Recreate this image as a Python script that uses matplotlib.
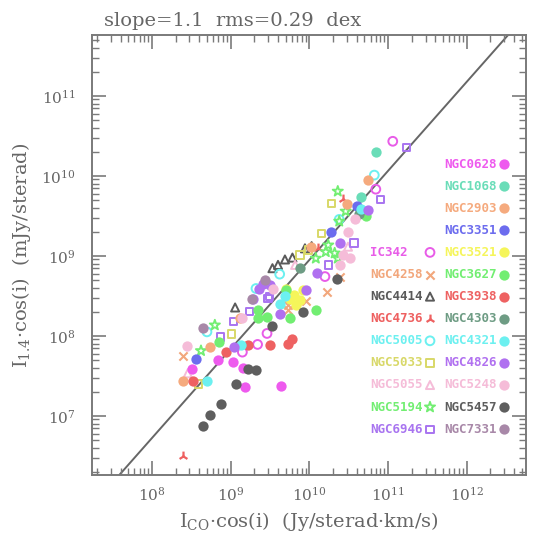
import numpy as np
import matplotlib
matplotlib.use("Agg")
import matplotlib.pyplot as plt
from matplotlib.ticker import LogLocator, NullFormatter, LogFormatterMathtext

plt.rcParams['font.family'] = ['DejaVu Serif']
plt.rcParams['mathtext.fontset'] = 'dejavuserif'

# ---------------- data (I_CO cos i [Jy/sr km/s], I_1.4 cos i [mJy/sr]) ----------------
ic342_x = [1.15e11, 7.0e10, 1.58e10, 2.9e9, 2.2e9, 1.41e9]
ic342_y = [2.7e10, 6.8e9, 5.5e8, 1.07e8, 7.8e7, 6.25e7]
ngc4258_x = [2.5e8, 2.45e10, 1.66e10, 9.2e9, 5.4e9, 5.4e9]
ngc4258_y = [5.6e7, 5.5e8, 3.5e8, 2.7e8, 2.4e8, 2.1e8]
ngc4414_x = [3.4e9, 4.0e9, 4.9e9, 6.1e9, 1.14e9, 8.8e9, 1.07e10]
ngc4414_y = [7.0e8, 7.7e8, 9.0e8, 9.5e8, 2.26e8, 1.24e9, 1.32e9]
ngc4736_x = [2.65e10, 2.5e8, 1.3e10]
ngc4736_y = [5.2e9, 3.1e6, 1.24e9]
ngc5005_x = [6.7e10, 2.4e10, 4.2e9, 5.0e8, 2.1e9]
ngc5005_y = [1.02e10, 2.85e9, 5.9e8, 1.12e8, 3.9e8]
ngc5033_x = [1.92e10, 1.44e10, 7.6e9, 1.03e9, 3.9e8, 9.7e9]
ngc5033_y = [4.5e9, 1.9e9, 1.02e9, 1.05e8, 2.5e7, 1.18e9]
ngc5055_x = [3.1e10, 2.85e8, 6.6e9]
ngc5055_y = [1.3e9, 3.4e7, 7.7e8]
ngc5194_x = [2.3e10, 2.9e10, 2.4e10, 1.62e10, 1.21e10, 2.1e10, 6.3e8, 4.2e8, 1.74e10, 2.3e10]
ngc5194_y = [6.4e9, 3.6e9, 2.7e9, 1.12e9, 9.3e8, 1.08e9, 1.36e8, 6.5e7, 1.36e9, 9.3e8]
ngc6946_x = [1.73e11, 8.1e10, 3.7e10, 1.74e10, 3.1e9, 1.73e9, 1.08e9, 7.5e8, 3.0e9]
ngc6946_y = [2.26e10, 5.1e9, 1.45e9, 7.7e8, 3.1e8, 2.0e8, 1.5e8, 9.7e7, 2.9e8]

ngc0628_x = [7.0e8, 1.08e9, 3.2e8, 1.45e9, 1.52e9, 4.4e9]
ngc0628_y = [5.0e7, 4.7e7, 3.9e7, 4.0e7, 2.26e7, 2.35e7]
ngc1068_x = [7.0e10, 4.6e10]
ngc1068_y = [1.96e10, 5.4e9]
ngc2903_x = [5.6e10, 3.0e10, 1.05e10, 5.5e8, 2.5e8, 1.31e9]
ngc2903_y = [8.8e9, 4.5e9, 1.3e9, 7.3e7, 2.7e7, 1.66e8]
ngc3351_x = [4.0e10, 1.9e10, 3.6e8]
ngc3351_y = [4.2e9, 2.0e9, 5.2e7]
ngc3521_x = [6.3e9, 7.6e9, 5.7e9, 5.0e9, 8.3e9, 6.8e9]
ngc3521_y = [3.2e8, 2.8e8, 2.9e8, 3.9e8, 3.7e8, 2.4e8]
ngc3627_x = [1.21e10, 2.2e9, 2.2e9, 2.9e9, 5.7e9, 7.2e8, 5.2e10, 5.1e9]
ngc3627_y = [2.1e8, 2.1e8, 1.65e8, 1.73e8, 1.65e8, 8.4e7, 3.1e9, 3.7e8]
ngc3938_x = [8.7e8, 1.68e9, 3.2e9, 5.4e9, 6.0e9, 3.3e8]
ngc3938_y = [6.3e7, 7.7e7, 7.7e7, 8.0e7, 9.0e7, 2.7e7]
ngc4303_x = [4.3e10, 7.6e9]
ngc4303_y = [3.3e9, 7.0e8]
ngc4321_x = [4.6e10, 1.34e9, 5.0e8, 4.2e9, 4.9e9]
ngc4321_y = [3.9e9, 7.7e7, 2.7e7, 2.5e8, 3.1e8]
ngc4826_x = [5.6e10, 2.45e10, 1.24e10, 9.2e9, 4.2e9, 1.1e9, 2.6e9, 3.2e9, 1.94e9, 2.3e9]
ngc4826_y = [3.7e9, 1.43e9, 6.1e8, 3.7e8, 1.87e8, 7.2e7, 4.5e8, 4.3e8, 2.9e8, 3.8e8]
ngc5248_x = [3.8e10, 3.1e10, 1.38e9, 2.8e8, 3.3e10, 2.45e10, 2.7e10, 3.5e9]
ngc5248_y = [2.85e9, 2.0e9, 1.65e8, 7.4e7, 9.4e8, 7.7e8, 1.02e9, 3.8e8]
ngc5457_x = [2.22e10, 8.4e9, 3.4e9, 1.68e9, 2.1e9, 1.17e9, 7.5e8, 5.5e8, 4.5e8]
ngc5457_y = [5.2e8, 2.0e8, 1.32e8, 3.9e7, 3.7e7, 2.5e7, 1.4e7, 1.02e7, 7.5e6]
ngc7331_x = [4.5e8, 1.85e9, 2.7e9]
ngc7331_y = [1.24e8, 2.9e8, 5.0e8]

fit_slope = 1.113
fit_log_norm = -2.182
x_ticks = [1e8, 1e9, 1e10, 1e11, 1e12]
y_ticks = [1e7, 1e8, 1e9, 1e10, 1e11]

# ---------------- styles ----------------
left_col = [
    ("IC342", ic342_x, ic342_y, 'o', '#e85ce8', False),
    ("NGC4258", ngc4258_x, ngc4258_y, 'x', '#f2a77c', False),
    ("NGC4414", ngc4414_x, ngc4414_y, '^', '#5a5a5a', False),
    ("NGC4736", ngc4736_x, ngc4736_y, '2', '#ee6060', False),
    ("NGC5005", ngc5005_x, ngc5005_y, 'o', '#6cf0f0', False),
    ("NGC5033", ngc5033_x, ngc5033_y, 's', '#d8d868', False),
    ("NGC5055", ngc5055_x, ngc5055_y, '^', '#f5bcd8', False),
    ("NGC5194", ngc5194_x, ngc5194_y, '*', '#72ee72', False),
    ("NGC6946", ngc6946_x, ngc6946_y, 's', '#a874f0', False),
]
right_col = [
    ("NGC0628", ngc0628_x, ngc0628_y, 'o', '#ee5aee', True),
    ("NGC1068", ngc1068_x, ngc1068_y, 'o', '#6addb8', True),
    ("NGC2903", ngc2903_x, ngc2903_y, 'o', '#f5aa7e', True),
    ("NGC3351", ngc3351_x, ngc3351_y, 'o', '#6c6cee', True),
    ("NGC3521", ngc3521_x, ngc3521_y, 'o', '#f5f55a', True),
    ("NGC3627", ngc3627_x, ngc3627_y, 'o', '#72ee72', True),
    ("NGC3938", ngc3938_x, ngc3938_y, 'o', '#ee6262', True),
    ("NGC4303", ngc4303_x, ngc4303_y, 'o', '#6e9c84', True),
    ("NGC4321", ngc4321_x, ngc4321_y, 'o', '#6cf0f0', True),
    ("NGC4826", ngc4826_x, ngc4826_y, 'o', '#b070f0', True),
    ("NGC5248", ngc5248_x, ngc5248_y, 'o', '#f5bcd8', True),
    ("NGC5457", ngc5457_x, ngc5457_y, 'o', '#5e5e5e', True),
    ("NGC7331", ngc7331_x, ngc7331_y, 'o', '#a888a8', True),
]

W, H = 542, 539
fig = plt.figure(figsize=(W / 100, H / 100), dpi=100)
L, R, T, B = 92, 526, 35, 475
ax = fig.add_axes([L / W, 1 - B / H, (R - L) / W, (B - T) / H])
ax.set_xscale('log')
ax.set_yscale('log')
xlim = (10 ** 7.238, 10 ** 12.754)
ylim = (10 ** 6.26, 10 ** 11.76)
ax.set_xlim(*xlim)
ax.set_ylim(*ylim)

GRAY = '#666666'


def mstyle(marker, color, filled):
    if marker == 'x':
        return dict(marker=marker, color=color, s=35, linewidths=1.5)
    if marker == '2':
        return dict(marker=marker, color=color, s=50, linewidths=1.6)
    if marker == '*':
        return dict(marker=marker, facecolors='none', edgecolors=color, s=60, linewidths=1.3)
    if filled:
        return dict(marker=marker, color=color, s=55, linewidths=0)
    size = {'s': 28, '^': 34, 'o': 40}[marker]
    return dict(marker=marker, facecolors='none', edgecolors=color, s=size, linewidths=1.4)


# fit line
lx = np.linspace(np.log10(xlim[0]), np.log10(xlim[1]), 50)
ax.plot(10 ** lx, 10 ** (fit_slope * lx + fit_log_norm), color=GRAY, lw=1.4, zorder=1)

for name, xs, ys, mk, col, filled in left_col + right_col:
    ax.scatter(xs, ys, zorder=2, **mstyle(mk, col, filled))

# legend (drawn as text inside the axes)
row0, dy = 164, 22.1
lab_font = dict(family='DejaVu Sans Mono', weight='bold', fontsize=9)
for i, (name, xs, ys, mk, col, filled) in enumerate(right_col):
    yy = (B - (row0 + dy * i)) / (B - T)
    ax.text((497 - L) / (R - L), yy, name, color=col, ha='right', va='center',
            transform=ax.transAxes, **lab_font)
    ax.scatter([(504 - L) / (R - L)], [yy], transform=ax.transAxes, clip_on=False,
               zorder=3, **mstyle(mk, col, filled))
for i, (name, xs, ys, mk, col, filled) in enumerate(left_col):
    yy = (B - (row0 + dy * (i + 4))) / (B - T)
    ax.text((370 - L) / (R - L), yy, name, color=col, ha='left', va='center',
            transform=ax.transAxes, **lab_font)
    ax.scatter([(430 - L) / (R - L)], [yy], transform=ax.transAxes, clip_on=False,
               zorder=3, **mstyle(mk, col, filled))

# axes styling
for sp in ax.spines.values():
    sp.set_color('#7a7a7a')
    sp.set_linewidth(1.4)
ax.set_xticks(x_ticks)
ax.set_yticks(y_ticks)
ax.xaxis.set_major_formatter(LogFormatterMathtext())
ax.yaxis.set_major_formatter(LogFormatterMathtext())
for axis in (ax.xaxis, ax.yaxis):
    axis.set_minor_locator(LogLocator(base=10, subs=np.arange(2, 10), numticks=100))
    axis.set_minor_formatter(NullFormatter())
ax.tick_params(which='both', direction='in', top=True, right=True, color='#7a7a7a',
               labelcolor=GRAY, labelsize=11)
ax.tick_params(which='major', length=10, width=1.2, pad=8)
ax.tick_params(which='minor', length=5, width=1.0)
ax.tick_params(axis='y', which='major', pad=12)

ax.set_xlabel('I$_{\\rm CO}$·cos(i)  (Jy/sterad·km/s)', fontsize=14, color=GRAY, labelpad=4)
ax.set_ylabel('I$_{1.4}$·cos(i)  (mJy/sterad)', fontsize=14, color=GRAY, labelpad=6)
fig.text(104 / W, 1 - 26 / H, 'slope=1.1  rms=0.29  dex', fontsize=14, color=GRAY,
         ha='left', va='baseline')

fig.savefig('out.png', dpi=100)
